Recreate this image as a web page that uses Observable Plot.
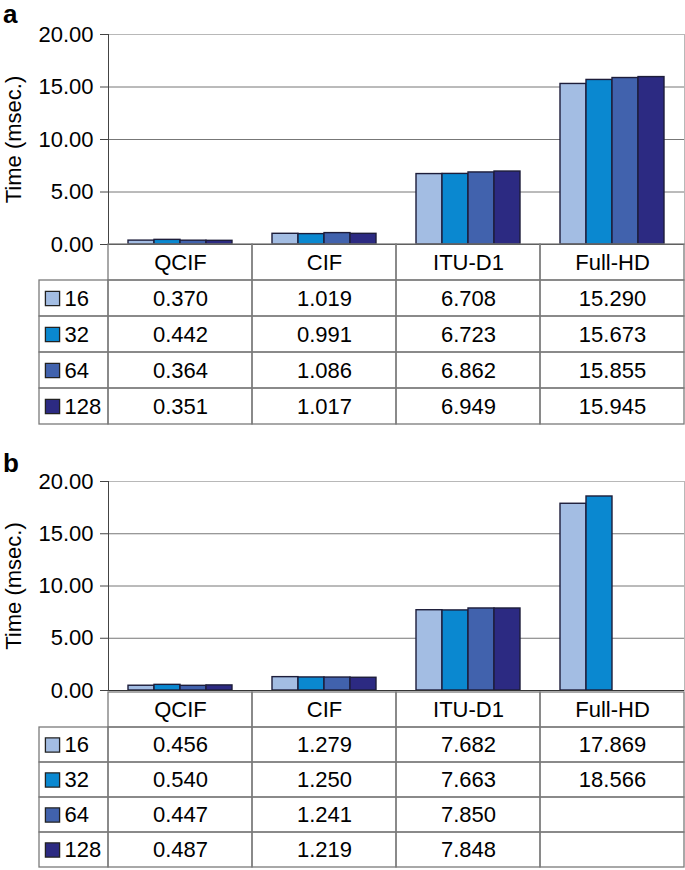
<!DOCTYPE html>
<html><head><meta charset="utf-8">
<script src="https://cdn.jsdelivr.net/npm/d3@7"></script>
<script src="https://cdn.jsdelivr.net/npm/@observablehq/plot@0.6"></script>
<style>
body{margin:0;width:685px;height:870px;overflow:hidden;background:#fff;font-family:"Liberation Sans",Arial,sans-serif;position:relative;}
.box{position:absolute;left:0;}
.box svg{display:block;}
.lbl{position:absolute;left:3px;font-weight:bold;font-size:26px;line-height:26px;color:#000;}
</style></head><body>
<script>
// ---- data ----
const categories = ["QCIF", "CIF", "ITU-D1", "Full-HD"];
const series = ["16", "32", "64", "128"];
const seriesColors = ["#a3bde3", "#0a88d0", "#4162ad", "#2c2a82"];
const yTicks = [0, 5, 10, 15, 20];
const yLabel = "Time (msec.)";

// panel a
const a16  = [0.370, 1.019, 6.708, 15.290];
const a32  = [0.442, 0.991, 6.723, 15.673];
const a64  = [0.364, 1.086, 6.862, 15.855];
const a128 = [0.351, 1.017, 6.949, 15.945];
// panel b
const b16  = [0.456, 1.279, 7.682, 17.869];
const b32  = [0.540, 1.250, 7.663, 18.566];
const b64  = [0.447, 1.241, 7.850, null];
const b128 = [0.487, 1.219, 7.848, null];

const FONT = "Liberation Sans, Arial, Helvetica, sans-serif";
const FS = 22;
const fmt = d3.format(".3f");

function barsPlot(rows, marginTop, height) {
  const data = [];
  series.forEach((s, j) => rows[j].forEach((v, i) => {
    if (v != null) data.push({cat: categories[i], series: s, value: v});
  }));
  return Plot.plot({
    width: 685, height, marginTop, marginBottom: 1, marginLeft: 108, marginRight: 1,
    style: {fontFamily: FONT, fontSize: FS + "px", color: "#000", background: "transparent", overflow: "visible"},
    fx: {domain: categories, padding: 0, axis: null},
    x: {domain: series, paddingInner: 0, paddingOuter: 0.72, axis: null},
    y: {domain: [0, 20]},
    color: {domain: series, range: seriesColors},
    marks: [
      Plot.gridY(yTicks.slice(1, 4), {stroke: "#777", strokeOpacity: 1}),
      Plot.ruleY([20], {stroke: "#b8b8b8"}),
      Plot.frame({anchor: "right", stroke: "#b8b8b8", facetAnchor: "right"}),
      Plot.barY(data, {fx: "cat", x: "series", y: "value", fill: "series", stroke: "#1d1d3a", strokeWidth: 1.4}),
      Plot.ruleY([0], {stroke: "#333"}),
      Plot.frame({anchor: "left", stroke: "#444", facetAnchor: "left"}),
      Plot.axisY({ticks: yTicks, tickFormat: ".2f", tickSize: 8, tickPadding: 7, fontSize: FS,
        stroke: "#444", label: yLabel, labelArrow: "none", labelAnchor: "center", labelOffset: 103})
    ]
  });
}

function tablePlot(rows, height) {
  const legendW = 69 / 144;
  const rowNames = ["hdr", ...series];
  const cells = [];
  categories.forEach((c, i) => cells.push({row: "hdr", x1: i, x2: i + 1, text: c}));
  const legendCells = [];
  series.forEach((s, j) => {
    legendCells.push({row: s, x1: -legendW, x2: 0, s});
    categories.forEach((c, i) => {
      const v = rows[j][i];
      cells.push({row: s, x1: i, x2: i + 1, text: v == null ? "" : fmt(v)});
    });
  });
  return Plot.plot({
    width: 685, height, marginTop: 1, marginBottom: 1, marginLeft: 39, marginRight: 1,
    style: {fontFamily: FONT, fontSize: FS + "px", color: "#000", background: "transparent", overflow: "visible"},
    x: {domain: [-legendW, 4], axis: null},
    y: {domain: rowNames, padding: 0, axis: null},
    color: {domain: series, range: seriesColors},
    marks: [
      Plot.barX(legendCells, {x1: "x1", x2: "x2", y: "row", fill: "none", stroke: "#7a7a7a", strokeWidth: 1.3}),
      Plot.barX(cells, {x1: "x1", x2: "x2", y: "row", fill: "none", stroke: "#7a7a7a", strokeWidth: 1.3}),
      Plot.text(cells.filter(d => d.text), {x: d => (d.x1 + d.x2) / 2, y: "row", text: "text", fontSize: FS, fill: "#000"}),
      Plot.dot(legendCells, {x: "x1", y: "row", dx: 13, symbol: "square", r: 8, fill: "s", stroke: "#222", strokeWidth: 1.3}),
      Plot.text(legendCells, {x: "x1", y: "row", dx: 25, text: "s", textAnchor: "start", fontSize: FS, fill: "#000"})
    ]
  });
}

function place(node, top) {
  const div = document.createElement("div");
  div.className = "box";
  div.style.top = top + "px";
  div.appendChild(node);
  document.body.appendChild(div);
}
function letter(t, top) {
  const d = document.createElement("div");
  d.className = "lbl";
  d.style.top = top + "px";
  d.textContent = t;
  document.body.appendChild(d);
}

place(barsPlot([a16, a32, a64, a128], 34, 245), 0);
place(tablePlot([a16, a32, a64, a128], 182), 243);
place(barsPlot([b16, b32, b64, b128], 35, 245), 446);
place(tablePlot([b16, b32, b64, b128], 181), 689);
letter("a", 1);
letter("b", 450);
</script>
</body></html>
